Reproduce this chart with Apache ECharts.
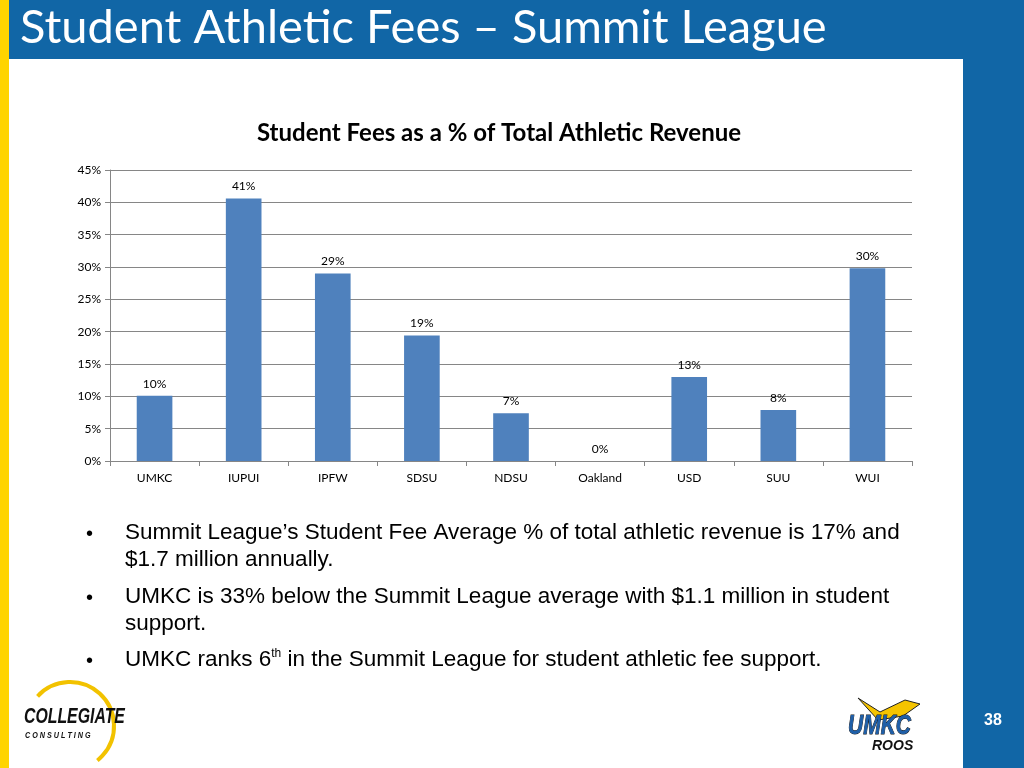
<!DOCTYPE html>
<html><head><meta charset="utf-8">
<script src="https://cdn.jsdelivr.net/npm/echarts@6/dist/echarts.min.js"></script>
<style>html,body{margin:0;padding:0;background:#fff}#c{width:1024px;height:768px}</style>
</head><body><div id="c"></div>
<script>
const categories = ['UMKC','IUPUI','IPFW','SDSU','NDSU','Oakland','USD','SUU','WUI'];
const feeShare = [0.101,0.406,0.290,0.194,0.074,0,0.130,0.079,0.298];
const yTicks = [0,0.05,0.10,0.15,0.20,0.25,0.30,0.35,0.40,0.45];
const slideTitle = 'Student Athletic Fees – Summit League';
const chartTitle = 'Student Fees as a % of Total Athletic Revenue';
const bullets = [
  ['Summit League’s Student Fee Average % of total athletic revenue is 17% and','$1.7 million annually.'],
  ['UMKC is 33% below the Summit League average with $1.1 million in student','support.'],
  ['UMKC ranks 6{sup|th} in the Summit League for student athletic fee support.']
];
const pageNo = '38';

const blue = '#1166A6';
const chart = echarts.init(document.getElementById('c'));
const bulletGraphics = [];
const lineY = [[534,561],[598,625],[661]];
bullets.forEach((b,i)=>{
  bulletGraphics.push({type:'text',left:86,top:lineY[i][0]-10,style:{text:'•',font:'20px "Liberation Sans"',fill:'#000'}});
  b.forEach((ln,j)=>{
    bulletGraphics.push({type:'text',left:125,top:lineY[i][j]-13,style:{text:ln,font:'22.5px "Liberation Sans"',fill:'#000',
      rich:{sup:{fontSize:12,fontFamily:'Liberation Sans',verticalAlign:'top',padding:[0,0,11,0],fill:'#000'}}}});
  });
});

chart.setOption({
  animation:false,
  backgroundColor:'#fff',
  title:{text:chartTitle,left:494,top:116,textAlign:'center',
    textStyle:{fontFamily:'Lato',fontSize:24,fontWeight:'bold',color:'#000'}},
  grid:{left:110,right:112,top:170,bottom:307},
  xAxis:{type:'category',data:categories,boundaryGap:true,
    axisLine:{lineStyle:{color:'#868686',width:1}},
    axisTick:{show:true,length:5,lineStyle:{color:'#868686'}},
    axisLabel:{fontFamily:'Lato',fontSize:12,color:'#000',margin:11}},
  yAxis:{type:'value',min:0,max:0.45,interval:0.05,
    axisLine:{show:true,lineStyle:{color:'#868686'}},
    axisTick:{show:true,length:5,lineStyle:{color:'#868686'}},
    splitLine:{lineStyle:{color:'#868686',width:1}},
    axisLabel:{fontFamily:'Lato',fontSize:12,color:'#000',margin:9,
      formatter:v=>Math.round(v*100)+'%'}},
  series:[{type:'bar',data:feeShare,barWidth:'40%',
    itemStyle:{color:'#4F81BD'},
    label:{show:true,position:'top',distance:6,fontFamily:'Lato',fontSize:12,color:'#000',
      formatter:p=>Math.round(p.value*100)+'%'}}],
  graphic:[
    {type:'rect',left:0,top:0,z:-1,shape:{width:9,height:768},style:{fill:'#FFD400'}},
    {type:'rect',left:9,top:0,z:-1,shape:{width:1015,height:59},style:{fill:blue}},
    {type:'rect',left:963,top:59,z:-1,shape:{width:61,height:709},style:{fill:blue}},
    {type:'text',left:20,top:4,style:{text:slideTitle,font:'47px Lato',fill:'#fff'}},
    {type:'text',left:984,top:713,style:{text:pageNo,font:'bold 16px "Liberation Sans"',fill:'#fff'}},
    // Collegiate Consulting logo approximation
    {type:'arc',shape:{cx:70,cy:726,r:44,startAngle:-2.4,endAngle:0.9},style:{stroke:'#F2C200',lineWidth:4,fill:null}},
    {type:'text',x:24,y:706,scaleX:0.72,style:{text:'COLLEGIATE',font:'italic bold 22px "Liberation Sans"',fill:'#111'}},
    {type:'text',x:25,y:731,scaleX:0.8,style:{text:'C O N S U L T I N G',font:'italic bold 9px "Liberation Sans"',fill:'#111'}},
    // UMKC Roos logo approximation
    {type:'polygon',shape:{points:[[858,698],[880,712],[905,700],[920,704],[903,716],[878,720]]},style:{fill:'#F5C400',stroke:'#222',lineWidth:1}},
    {type:'text',x:848,y:712,scaleX:0.75,style:{text:'UMKC',font:'italic bold 28px "Liberation Sans"',fill:'#1F5FA8',stroke:'#111',lineWidth:1}},
    {type:'text',x:872,y:739,style:{text:'ROOS',font:'italic bold 14px "Liberation Sans"',fill:'#111'}}
  ].concat(bulletGraphics)
});
</script></body></html>
